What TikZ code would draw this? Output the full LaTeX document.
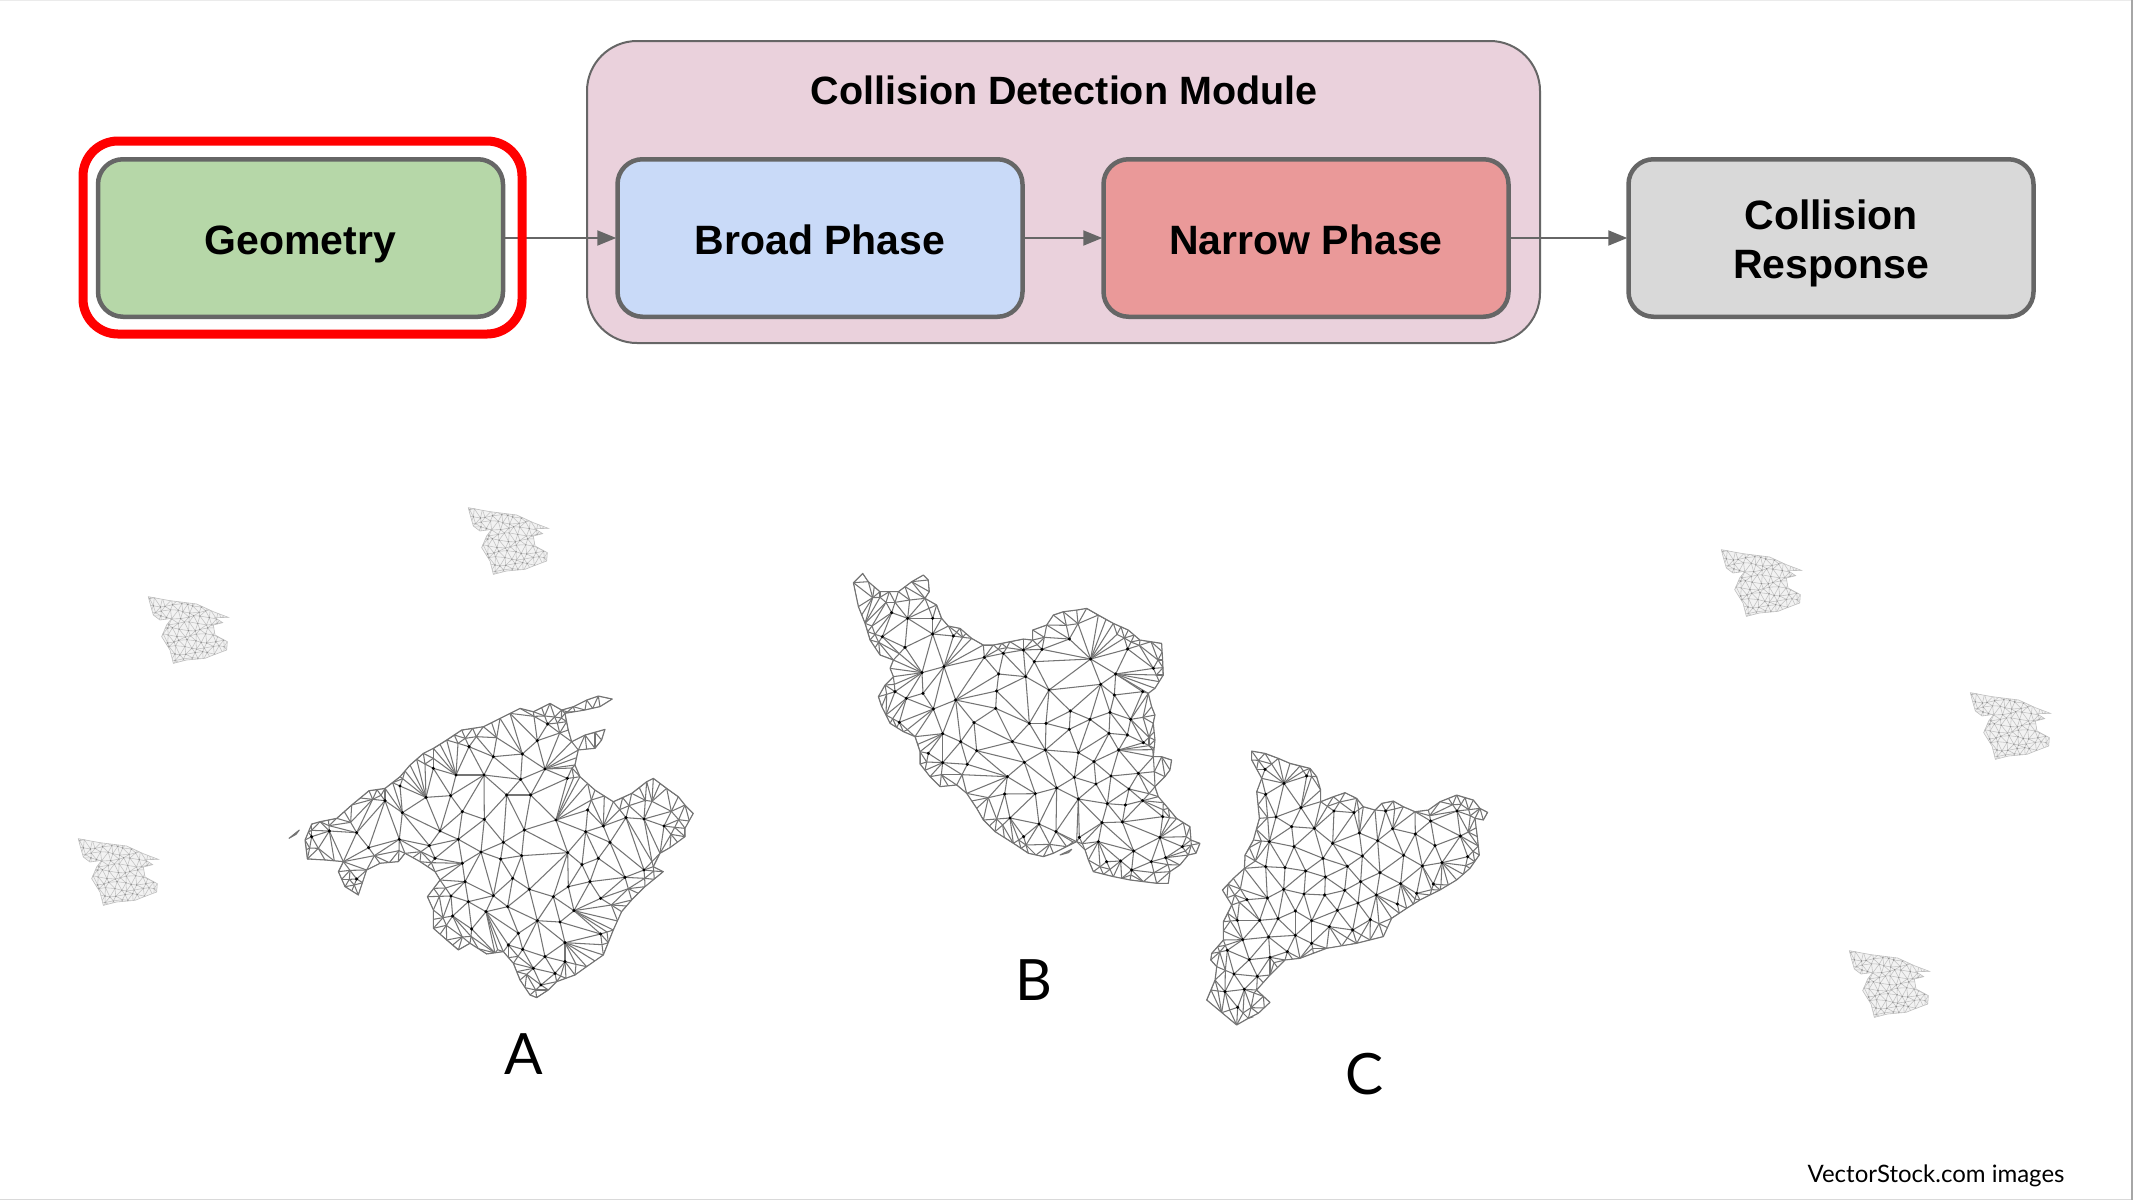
\documentclass[tikz,border=0pt]{standalone}
\usepackage{fontspec}
\setmainfont{Liberation Sans}
\newfontfamily\labelfont{Lato}
\usetikzlibrary{arrows.meta}
\definecolor{edgegray}{HTML}{666666}
\definecolor{modfill}{HTML}{EAD1DC}
\definecolor{geomfill}{HTML}{B6D7A8}
\definecolor{broadfill}{HTML}{C9DAF8}
\definecolor{narrowfill}{HTML}{EA9999}
\definecolor{respfill}{HTML}{D9D9D9}
\definecolor{meshgray}{HTML}{747474}
\tikzset{
  boxnode/.style={draw=edgegray,line width=4.5pt,rounded corners=25pt,minimum width=405pt,minimum height=157.5pt,align=center,font=\fontsize{41}{49}\selectfont\bfseries,text=black,inner sep=0pt},
  flowarrow/.style={draw=edgegray,line width=2pt,-{Triangle[length=19pt,width=15pt]},shorten >=-1pt},
  meshline/.style={draw=meshgray,line width=1.05pt,line join=round},
  meshdot/.style={fill=black},
  biglabel/.style={font=\labelfont\fontsize{57}{60}\selectfont,text=black,inner sep=0pt},
}
\def\topstrut{\rule{0pt}{42pt}}
\def\botstrut{\rule[-10pt]{0pt}{10pt}}
\newcount\mshN \newcount\mshNb \newcount\mshNall \newcount\mshi \newcount\mshj \newcount\mshk \newcount\mshdt \newcount\mshdd \newcount\mshbest \newcount\mshbi
\newcount\mshE \newcount\mshe \newcount\mshEo \newcount\oA \newcount\oB \newcount\oC \newcount\oD
\newif\ifmshblock
\def\mshB{0}
\def\mshX#1{\csname mshx\number#1\endcsname}
\def\mshY#1{\csname mshy\number#1\endcsname}
\def\mshadd#1#2{\global\advance\mshN 1 \expandafter\xdef\csname mshx\number\mshN\endcsname{#1}\expandafter\xdef\csname mshy\number\mshN\endcsname{#2}}
\def\mshseed#1#2{\global\advance\mshE 1 \expandafter\xdef\csname mshea\number\mshE\endcsname{\number#1}\expandafter\xdef\csname msheb\number\mshE\endcsname{\number#2}}
\def\EA{\csname mshea\number\mshe\endcsname}
\def\EB{\csname msheb\number\mshe\endcsname}
% does the candidate edge i-j cross an accepted edge?
\def\mshcrossb{%
  \mshe=1
  \loop
   \ifnum\EA=\mshi\else\ifnum\EA=\mshj\else\ifnum\EB=\mshi\else\ifnum\EB=\mshj\else
     \edef\pa{\csname mshx\EA\endcsname}\edef\pb{\csname mshy\EA\endcsname}%
     \edef\pc{\csname mshx\EB\endcsname}\edef\pd{\csname mshy\EB\endcsname}%
     \oA=\numexpr\qx*(\pb-\qiy)-\qy*(\pa-\qix)\relax
     \oB=\numexpr\qx*(\pd-\qiy)-\qy*(\pc-\qix)\relax
     \ifnum\ifnum\oA>0 1\else 0\fi=\ifnum\oB>0 1\else 0\fi\else
       \oC=\numexpr(\pc-\pa)*(\qiy-\pb)-(\pd-\pb)*(\qix-\pa)\relax
       \oD=\numexpr(\pc-\pa)*(\qjy-\pb)-(\pd-\pb)*(\qjx-\pa)\relax
       \ifnum\ifnum\oC>0 1\else 0\fi=\ifnum\oD>0 1\else 0\fi\else
         \mshblocktrue
       \fi
     \fi
   \fi\fi\fi\fi
   \advance\mshe 1
   \ifnum\ifmshblock 1\else\ifnum\mshe>\mshE 1\else 0\fi\fi=0
  \repeat}
\def\mshtest{%
 \ifcsname mshdone\number\mshi:\number\mshj\endcsname\else
 \mshdd=\numexpr(\mshX\mshi-\mshX\mshj)*(\mshX\mshi-\mshX\mshj)+(\mshY\mshi-\mshY\mshj)*(\mshY\mshi-\mshY\mshj)\relax
 \ifnum\mshdd<30000
  \mshblockfalse \mshk=1
  \loop
   \ifnum\mshk=\mshi\else\ifnum\mshk=\mshj\else
    \mshdt=\numexpr 100*((\mshX\mshk-\mshX\mshi)*(\mshX\mshk-\mshX\mshj)+(\mshY\mshk-\mshY\mshi)*(\mshY\mshk-\mshY\mshj))\relax
    \ifnum\mshdt<\numexpr-\mshB*\mshdd\relax \mshblocktrue \fi
   \fi\fi
   \advance\mshk 1
   \ifnum\ifmshblock 1\else\ifnum\mshk>\mshN 1\else 0\fi\fi=0
  \repeat
  \ifmshblock\else
   \edef\qix{\mshX\mshi}\edef\qiy{\mshY\mshi}\edef\qjx{\mshX\mshj}\edef\qjy{\mshY\mshj}%
   \edef\qx{\the\numexpr\qjx-\qix\relax}\edef\qy{\the\numexpr\qjy-\qiy\relax}%
   \mshcrossb
   \ifmshblock\else
    \mshseed\mshi\mshj
    \expandafter\xdef\csname mshdone\number\mshi:\number\mshj\endcsname{1}%
   \fi
  \fi
 \fi
 \fi}
\def\mshinner{\ifnum\mshj>\mshN\else \mshtest \advance\mshj 1 \expandafter\mshinner\fi}
\def\mshouter{\ifnum\mshi<\mshN \mshj=\mshi \advance\mshj 1 \mshinner \advance\mshi 1 \expandafter\mshouter\fi}
\def\mshstage#1{\def\mshB{#1}\mshi=1 \mshouter}
% inset ring: a point between every second outline point and its nearest dot
\def\mshinset{\ifnum\mshi>\mshNb\else
  \mshbest=2000000000 \mshj=\mshNb \advance\mshj 1
  \loop
   \mshdd=\numexpr(\mshX\mshi-\mshX\mshj)*(\mshX\mshi-\mshX\mshj)+(\mshY\mshi-\mshY\mshj)*(\mshY\mshi-\mshY\mshj)\relax
   \ifnum\mshdd<\mshbest \mshbest=\mshdd \mshbi=\mshj \fi
   \advance\mshj 1
   \ifnum\mshj>\mshNall\else
  \repeat
  \ifnum\mshbest>900
   \mshadd{\the\numexpr(\mshX\mshi+\mshX\mshbi)/2\relax}{\the\numexpr(\mshY\mshi+\mshY\mshbi)/2\relax}%
  \fi
  \advance\mshi 2 \expandafter\mshinset\fi}
\def\mshseedoutline{\ifnum\mshi<\mshNb \mshj=\mshi \advance\mshj 1 \mshseed\mshi\mshj \advance\mshi 1 \expandafter\mshseedoutline\fi}
\def\mshdraw{\ifnum\mshe>\mshE\else
   \edef\pa{\EA}\edef\pb{\EB}%
   \edef\ax{\csname mshx\pa\endcsname}\edef\ay{\csname mshy\pa\endcsname}%
   \edef\bx{\csname mshx\pb\endcsname}\edef\by{\csname mshy\pb\endcsname}%
   \draw[meshline] (\ax,\ay) -- (\bx,\by);
   \advance\mshe 1 \expandafter\mshdraw\fi}
\def\mshforget{\ifnum\mshe>\mshE\else
   \expandafter\global\expandafter\let\csname mshdone\EA:\EB\endcsname\mshundefined
   \advance\mshe 1 \expandafter\mshforget\fi}
% #1,#2 origin; #3 boundary list; #4 dot list; #5 separate sliver path
\def\drawmesh#1#2#3#4#5{%
 \begin{scope}[shift={(#1,#2)},x=0.33333pt,y=-0.33333pt]
  \global\mshN=0 \global\mshE=0 \gdef\opath{}\gdef\prevx{}\gdef\prevy{}%
  \foreach \x/\y in #3 {%
    \ifx\opath\empty
      \xdef\opath{(\x,\y)}%
    \else
      \xdef\opath{\opath -- (\x,\y)}%
      \ifnum\numexpr(\x-\prevx)*(\x-\prevx)+(\y-\prevy)*(\y-\prevy)\relax>2000
        \edef\mx{\the\numexpr(\x+\prevx)/2\relax}\edef\my{\the\numexpr(\y+\prevy)/2\relax}%
        \mshadd\mx\my
      \fi
    \fi
    \mshadd\x\y
    \xdef\prevx{\x}\xdef\prevy{\y}%
  }%
  \mshNb=\mshN
  \foreach \x/\y in #4 {\mshadd\x\y}%
  \mshNall=\mshN
  \mshi=1 \mshinset
  \mshi=1 \mshseedoutline
  \mshj=1 \mshseed\mshNb\mshj
  \mshEo=\mshE
  \mshstage{0}\mshstage{6}\mshstage{12}\mshstage{18}\mshstage{24}%
  \begin{scope}
   \clip \opath -- cycle;
   \mshe=\mshEo \advance\mshe 1 \mshdraw
  \end{scope}
  \draw[meshline] \opath -- cycle;
  \draw[meshline] #5;
  \foreach \x/\y in #4 {\fill[meshdot] (\x,\y) circle[radius=1.7pt];}
  \mshe=\mshEo \advance\mshe 1
  \mshforget
 \end{scope}}
\def\bpt#1#2{({46+(#1)*21+10.5*mod(#2,2)+5*sin((#1)*97+(#2)*151)},{40+(#2)*18+5*cos((#1)*61+(#2)*113)})}
\def\blobpath{(55,50) -- (120,62) -- (200,72) -- (250,95) -- (295,112) -- (255,113) -- (278,128) -- (250,135) -- (255,165) -- (292,185) -- (290,210) -- (250,225) -- (225,235) -- (170,240) -- (130,250) -- (120,210) -- (95,170) -- (110,135) -- (125,115) -- (90,120) -- (70,105) -- (60,70) -- cycle}
\def\listA{112/537,105/480,125/432,150/425,200/415,245/375,297/332,345/325,390/290,420/255,460/220,490/205,530/180,575/150,640/140,690/115,750/85,790/95,840/70,875/90,910/80,950/60,985/48,1027/57,990/80,945/90,885/100,895/150,905/185,945/165,1005/148,995/180,975/205,925/210,915/255,930/290,975/330,1030/365,1085/340,1130/305,1150/295,1190/325,1225/350,1245/375,1270/400,1245/445,1245/470,1200/503,1170/520,1150/560,1180/575,1125/620,1085/660,1055/695,1030/750,1000/825,950/860,915/885,860/905,835/930,800/953,780/945,750/900,730/850,700/815,650/822,600/790,565/810,530/780,490/745,490/690,472/650,510/600,495/575,450/545,405/520,385/545,330/550,290/570,265/645,225/620,205/575,220/545,165/540}
\def\dotsA{833/132,802/182,757/222,670/230,597/200,825/267,752/298,642/285,558/285,490/265,892/295,782/345,710/345,542/347,468/352,390/318,345/362,397/398,577/395,643/418,763/450,858/420,953/390,1000/438,1068/413,1122/417,1182/438,947/455,1020/487,510/453,565/478,700/487,633/516,755/527,893/518,985/535,936/554,478/497,388/478,296/503,260/458,178/453,125/470,692/537,577/550,495/535,728/595,585/605,1065/592,960/605,895/620,778/628,670/647,543/648,595/665,850/650,992/655,713/680,912/692,648/695,548/708,802/722,870/726,605/747,745/760,992/762,885/788,825/830,758/808,715/795,790/865,885/845,855/880,813/915,260/597,1122/570}
\def\listB{40/68,68/40,85/65,120/95,175/95,215/65,250/45,265/60,268/95,255/115,290/135,305/175,325/198,360/205,395/235,430/255,460/255,510/245,550/237,578/240,578/210,620/195,640/165,670/155,710/150,740/145,775/165,820/190,865/210,900/240,965/250,968/300,970/345,945/385,925/400,935/440,945/465,940/490,945/540,940/590,965/590,995/600,990/630,975/650,945/680,955/710,985/745,1010/775,1050/800,1053/840,1080/850,1068/880,1045/885,1020/915,990/935,985/970,950/970,910/965,870/960,820/950,760/935,745/900,735/870,710/845,680/860,640/880,610/890,565/880,520/850,465/815,430/780,410/745,380/700,350/675,300/680,270/650,240/612,240/575,225/530,190/515,150/490,125/440,115/410,135/375,160/350,150/325,160/300,120/285,90/240,75/190,55/140}
\def\dotsB{155/158,203/175,278/175,278/222,195/262,312/320,246/338,340/228,433/292,490/280,550/270,606/268,583/305,688/237,752/297,863/267,940/325,827/342,782/373,627/390,557/350,476/342,470/393,347/420,249/400,199/415,280/447,467/445,568/490,618/490,691/453,750/478,688/508,823/405,810/457,872/478,908/395,807/520,862/525,910/548,402/488,308/521,362/545,410/572,517/545,616/570,715/578,836/570,762/605,553/607,382/613,308/608,502/650,703/652,768/672,813/648,895/640,867/687,908/722,650/684,586/701,494/702,715/717,802/731,856/735,510/774,597/792,648/815,786/788,847/786,968/770,960/832,718/832,551/830,775/845,881/873,977/893,934/905,842/903,875/930,1027/860,800/905,265/580,127/230,165/395,178/487}
\def\listC{185/33,225/40,265/55,300/70,360/85,380/110,392/150,392/185,430/170,465/158,500/175,520/200,555/210,575/190,610/183,640/200,675/215,715/210,750/185,800/165,850/180,870/205,893/217,880/240,855/235,862/290,868/345,840/385,800/420,750/450,690/480,650/505,605/535,580/590,500/610,410/625,330/655,285/660,240/705,200/750,240/787,205/820,175/835,140/855,50/780,75/720,80/680,62/660,65/640,100/600,100/545,125/495,97/450,130/415,163/385,165/345,190/300,208/235,200/155,215/115,185/60}
\def\dotsC{225/88,350/108,282/130,227/163,333/203,258/231,305/260,373/265,238/305,312/320,428/310,508/279,563/302,608/266,676/282,722/243,801/213,811/288,735/317,641/346,517/348,399/355,227/380,285/383,347/393,406/411,472/379,570/398,697/378,756/368,833/350,512/425,464/451,404/465,342/462,281/448,232/474,171/479,632/431,730/432,680/460,559/465,504/489,442/511,365/542,316/513,264/536,209/541,142/541,622/492,541/539,488/570,418/560,316/586,236/591,158/599,112/631,178/659,240/652,292/635,365/610,132/702,202/709,105/755,163/748,143/802,432/213,492/218,587/213}
\begin{document}
\begin{tikzpicture}[x=1pt,y=-1pt]
\useasboundingbox (0,0) rectangle (2133,1200);
\fill[white] (0,0) rectangle (2133,1200);
% slide edges
\draw[black!8,line width=1.5pt] (0,0.7) -- (2133,0.7);
\draw[black!15,line width=1.5pt] (0,1199.3) -- (2133,1199.3);
\draw[black!35,line width=1.5pt] (2132,0) -- (2132,1200);
% module and boxes
\node[draw=edgegray,line width=2pt,fill=modfill,rounded corners=50pt,minimum width=953pt,minimum height=302pt,inner sep=0pt] (module) at (1063.5,192) {};
\node[font=\fontsize{39.5}{47}\selectfont\bfseries,inner sep=0pt] (title) at (1064,90) {Collision Detection Module};
\node[boxnode,fill=geomfill] (geom) at (300.5,238) {\topstrut Geometry\botstrut};
\node[boxnode,fill=broadfill] (broad) at (820,238) {\topstrut Broad Phase\botstrut};
\node[boxnode,fill=narrowfill] (narrow) at (1306,238) {\topstrut Narrow Phase\botstrut};
\node[boxnode,fill=respfill] (resp) at (1831,238) {\topstrut Collision\\Response\botstrut};
\draw[flowarrow] (geom) -- (broad);
\draw[flowarrow] (broad) -- (narrow);
\draw[flowarrow] (narrow) -- (resp);
\node[draw=red,line width=9pt,rounded corners=35pt,minimum width=439pt,minimum height=193pt,inner sep=0pt] (highlight) at (302.5,237.5) {};
% small faint meshes
\foreach \dx/\dy in {0/0,320/-89,-70/242,1573/-47,1822/96,1701/354} {
 \begin{scope}[shift={(130+\dx,580+\dy)},x=0.33333pt,y=-0.33333pt]
  \begin{scope}
   \clip \blobpath;
   \fill[black!5] (40,30) rectangle (310,260);
   \foreach \i in {0,...,12} \foreach \j in {0,...,12} {
     \draw[black!24,line width=0.55pt] \bpt{\i}{\j} -- \bpt{\i+1}{\j};
     \draw[black!24,line width=0.55pt] \bpt{\i}{\j} -- \bpt{\i}{\j+1};
     \draw[black!24,line width=0.55pt] \bpt{\i}{\j} -- \bpt{\i+2*mod(\j,2)-1}{\j+1};
     \fill[black!45] \bpt{\i}{\j} circle[radius=0.8pt];
   }
  \end{scope}
  \draw[black!25,line width=0.6pt] \blobpath;
 \end{scope}
}
% large meshes
\drawmesh{270}{680}{\listA}{\dotsA}{(57,475) -- (88,450) -- (78,463) -- cycle}
\drawmesh{840}{560}{\listB}{\dotsB}{(660,885) -- (695,868) -- (685,878) -- cycle}
\drawmesh{1190}{740}{\listC}{\dotsC}{(175,835) -- (190,830)}
% labels
\node[biglabel] (labela) at (524,1054) {A};
\node[biglabel] (labelb) at (1034,980) {B};
\node[biglabel] (labelc) at (1365,1074) {C};
\node[font=\labelfont\fontsize{24}{28}\selectfont,inner sep=0pt] (credit) at (1936,1176) {VectorStock.com images};
\end{tikzpicture}
\end{document}
